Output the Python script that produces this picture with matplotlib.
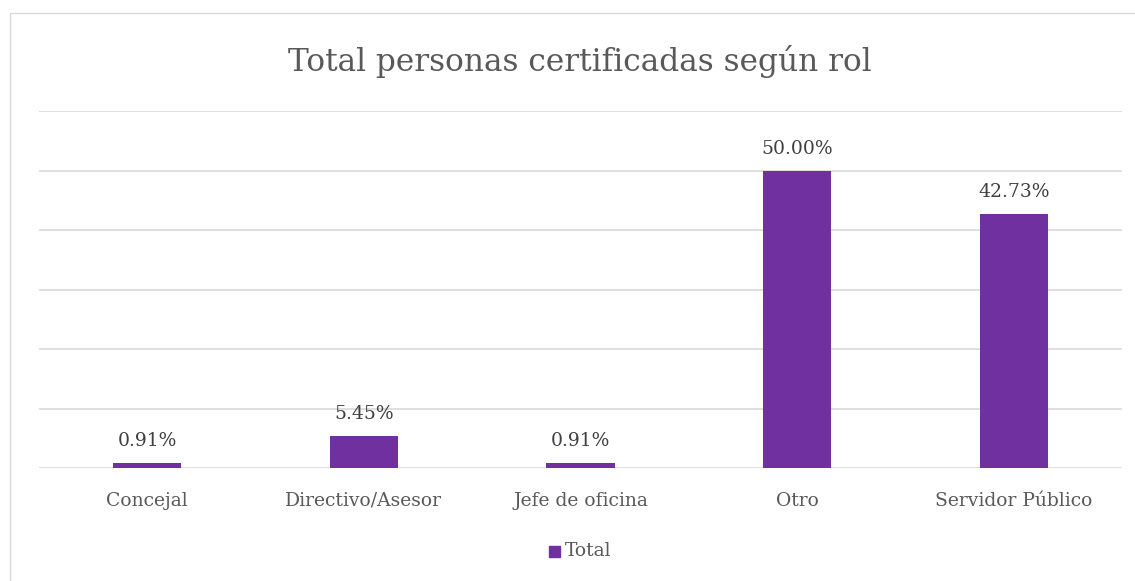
import matplotlib.pyplot as plt
from matplotlib.patches import Rectangle
import numpy as np

categories = ["Concejal", "Directivo/Asesor", "Jefe de oficina", "Otro", "Servidor Público"]
values = [0.91, 5.45, 0.91, 50.00, 42.73]
series_name = "Total"
title = "Total personas certificadas según rol"

plt.rcParams['font.family'] = ['DejaVu Serif', 'Liberation Serif']

W, H = 1135, 581
fig = plt.figure(figsize=(W / 100, H / 100), dpi=100)
ax = fig.add_axes([39 / W, 1 - 468 / H, (1122 - 39) / W, (468 - 111) / H])

x = np.arange(len(categories))
bars = ax.bar(x, values, width=0.314, color='#7030A0', zorder=3)

for xi, v in zip(x, values):
    ax.annotate(f"{v:.2f}%", (xi, v), xytext=(0, 9), textcoords='offset points',
                ha='center', va='bottom', fontsize=13.5, color='#404040')

ax.set_xlim(-0.5, len(categories) - 0.5)
ax.set_ylim(0, 60)
ax.set_yticks(np.arange(0, 61, 10))
ax.yaxis.grid(True, color='#D9D9D9', linewidth=1.2, zorder=0)
ax.set_yticklabels([])
ax.tick_params(axis='y', length=0)
ax.set_xticks(x)
ax.set_xticklabels(categories, fontsize=13.5, color='#595959')
ax.tick_params(axis='x', length=0, pad=17)
for s in ax.spines.values():
    s.set_visible(False)

fig.text(580 / W, 1 - 62 / H, title, ha='center', va='center', fontsize=22.5, color='#595959')

# legend
fig.patches.append(Rectangle((549 / W, 1 - 557 / H), 11 / W, 11 / H,
                             transform=fig.transFigure, color='#7030A0'))
fig.text(565 / W, 1 - 551 / H, series_name, ha='left', va='center', fontsize=13.5, color='#595959')

# chart border
fig.patches.append(Rectangle((10 / W, -0.05), 1.1, 1 - 13 / H + 0.05, transform=fig.transFigure,
                             fill=False, edgecolor='#D9D9D9', linewidth=1))

fig.savefig("out.png", dpi=100)
